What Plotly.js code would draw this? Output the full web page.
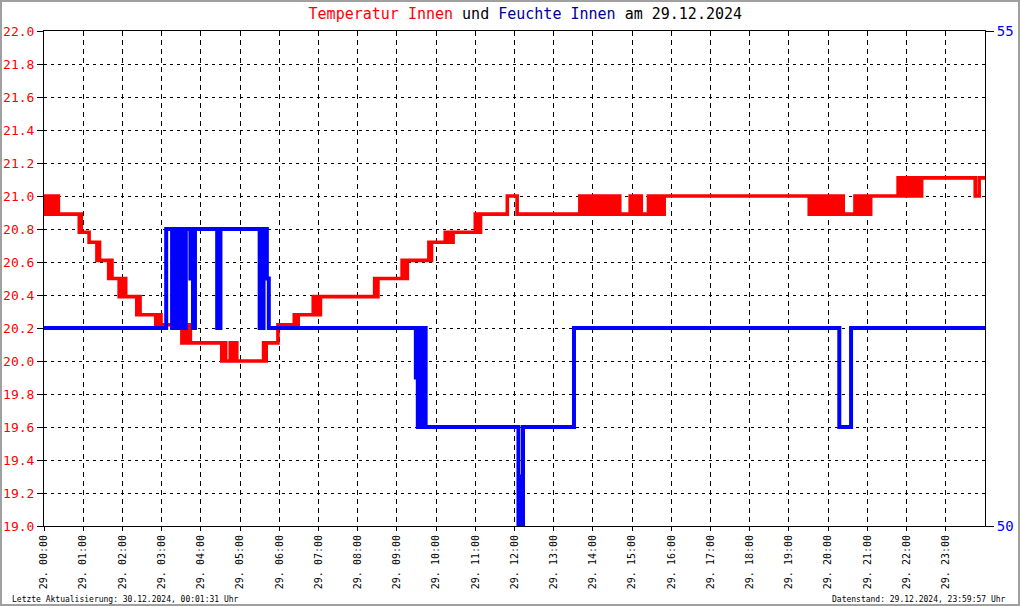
<!DOCTYPE html>
<html>
<head>
<meta charset="utf-8">
<script src="https://cdn.plot.ly/plotly-3.0.1.min.js"></script>
<style>
html,body{margin:0;padding:0;background:#fff;}
#wrap{position:relative;width:1020px;height:606px;}
#chart{width:1020px;height:606px;}
#frame{position:absolute;left:0;top:0;width:1020px;height:606px;box-sizing:border-box;border:2px solid #a0a0a0;pointer-events:none;}
</style>
</head>
<body>
<div id="wrap"><div id="chart"></div><div id="frame"></div></div>
<script>
// Temperature (°C), time in minutes after midnight, 29.12.2024
const tempMin = [0,2,5,7,9,12,14,17,19,22,
  54,55,57,69,81,83,85,99,101,104,115,117,120,122,125,142,145,147,
  171,173,175,178,179,211,213,215,217,219,221,224,
  272,275,278,285,287,290,295,336,338,340,358,
  383,386,389,412,414,417,420,423,506,508,511,
  548,550,552,554,556,589,591,593,614,617,620,623,626,
  660,662,664,666,668,709,724,
  820,822,824,826,829,831,834,836,839,841,845,847,850,852,855,857,859,862,864,866,868,871,873,876,878,881,
  897,899,902,904,907,909,912,914,925,927,930,932,935,937,940,942,946,948,949,
  1171,1173,1175,1178,1180,1183,1185,1188,1190,1193,1195,1198,1200,1202,1204,1207,1209,1212,1214,1217,1219,1221,1223,
  1241,1243,1246,1248,1251,1253,1257,1262,1265,
  1307,1309,1314,1316,1319,1321,1324,1326,1329,1331,1334,1336,1339,1341,1343,
  1425,1431,1439.95];
const tempVal = [21.0,20.89,21.0,20.89,21.0,20.89,21.0,20.89,21.0,20.89,
  20.78,20.89,20.78,20.72,20.61,20.72,20.61,20.5,20.61,20.5,20.39,20.5,20.39,20.5,20.39,20.28,20.39,20.28,
  20.22,20.28,20.22,20.28,20.22,20.11,20.22,20.11,20.22,20.11,20.22,20.11,
  20.0,20.11,20.0,20.11,20.0,20.11,20.0,20.11,20.0,20.11,20.22,
  20.28,20.22,20.28,20.39,20.28,20.39,20.28,20.39,20.5,20.39,20.5,
  20.61,20.5,20.61,20.5,20.61,20.72,20.61,20.72,20.78,20.72,20.78,20.72,20.78,
  20.89,20.78,20.89,20.78,20.89,21.0,20.89,
  21.0,20.89,21.0,20.89,21.0,20.89,21.0,20.89,21.0,20.89,21.0,20.89,21.0,20.89,21.0,20.89,21.0,20.89,21.0,20.89,21.0,20.89,21.0,20.89,21.0,20.89,
  21.0,20.89,21.0,20.89,21.0,20.89,21.0,20.89,21.0,20.89,21.0,20.89,21.0,20.89,21.0,20.89,21.0,20.89,21.0,
  20.89,21.0,20.89,21.0,20.89,21.0,20.89,21.0,20.89,21.0,20.89,21.0,20.89,21.0,20.89,21.0,20.89,21.0,20.89,21.0,20.89,21.0,20.89,
  21.0,20.89,21.0,20.89,21.0,20.89,21.0,20.89,21.0,
  21.11,21.0,21.11,21.0,21.11,21.0,21.11,21.0,21.11,21.0,21.11,21.0,21.11,21.0,21.11,
  21.0,21.11,21.11];

// Humidity (%), time in minutes after midnight
const humMin = [0,187,196,198,200,202,204,206,208,210,212,214,216,217,224,226,228,231,265,270,
  330,336,341,344,569,571,572,574,576,578,580,582,584,726,729,731,733,811,1217,1235,1439.95];
const humVal = [52,53,52,53,52,53,52,53,52,53,52,53,52,53,52.5,53,52,53,52,53,
  52,53,52.5,52,51.5,52,51,52,51,52,51,52,51,50,50.5,50,51,52,51,52,52];

const hourTicks = ['00:00','01:00','02:00','03:00','04:00','05:00','06:00','07:00','08:00','09:00','10:00','11:00',
  '12:00','13:00','14:00','15:00','16:00','17:00','18:00','19:00','20:00','21:00','22:00','23:00'];
const leftTicks = [19.0,19.2,19.4,19.6,19.8,20.0,20.2,20.4,20.6,20.8,21.0,21.2,21.4,21.6,21.8,22.0];
const rightTicks = [50,55];
const titleText = '<span style="color:#ff0000">Temperatur Innen</span> und <span style="color:#000099">Feuchte Innen</span> am 29.12.2024';
const footLeft = 'Letzte Aktualisierung: 30.12.2024, 00:01:31 Uhr';
const footRight = 'Datenstand: 29.12.2024, 23:59:57 Uhr';

function pad(n){return (n<10?'0':'')+n;}
function toDate(m){
  const totalSec = Math.round(m*60);
  const h = Math.floor(totalSec/3600), mi = Math.floor((totalSec%3600)/60), s = totalSec%60;
  return '2024-12-29 ' + pad(h) + ':' + pad(mi) + ':' + pad(s);
}

const mono = 'DejaVu Sans Mono, Liberation Mono, monospace';

const traces = [
  {x: humMin.map(toDate), y: humVal, yaxis: 'y2', type: 'scatter', mode: 'lines',
   line: {shape: 'hv', color: '#0000ff', width: 4}, hoverinfo: 'skip'},
  {x: tempMin.map(toDate), y: tempVal, type: 'scatter', mode: 'lines',
   line: {shape: 'hv', color: '#ff0000', width: 3.6}, hoverinfo: 'skip'}
];

const layout = {
  width: 1020, height: 606,
  margin: {l: 44, r: 35, t: 31, b: 80, pad: 0},
  paper_bgcolor: '#ffffff', plot_bgcolor: '#ffffff',
  showlegend: false,
  font: {family: mono, color: '#000'},
  title: {text: titleText, font: {family: mono, size: 15, color: '#000'},
          x: 0.515, xanchor: 'center', y: 0.977, yanchor: 'middle', xref: 'container', yref: 'container'},
  xaxis: {
    type: 'date',
    range: ['2024-12-29 00:00:00', '2024-12-29 23:59:57'],
    tickmode: 'array', tickvals: hourTicks.map(t => '2024-12-29 ' + t + ':00'),
    ticktext: hourTicks.map(t => '29. ' + t),
    tickangle: -90,
    tickfont: {family: mono, size: 10, color: '#000'},
    ticks: 'outside', ticklen: 4, tickcolor: '#000', tickwidth: 1,
    showgrid: true, gridcolor: '#000', gridwidth: 1, griddash: '5px,4px',
    showline: true, linecolor: '#000', linewidth: 1, mirror: true,
    zeroline: false, fixedrange: true
  },
  yaxis: {
    range: [19, 22], tickvals: leftTicks, tickformat: '.1f',
    tickfont: {family: mono, size: 13, color: '#ff0000'},
    ticks: 'outside', ticklen: 6, tickcolor: '#000',
    showgrid: true, gridcolor: '#000', gridwidth: 1, griddash: '3px,4px',
    showline: true, linecolor: '#000', linewidth: 1, mirror: true,
    zeroline: false, fixedrange: true
  },
  yaxis2: {
    overlaying: 'y', side: 'right', range: [50, 55], tickvals: rightTicks,
    tickfont: {family: mono, size: 14, color: '#0000ff'},
    ticks: 'outside', ticklen: 8, tickcolor: '#000',
    showgrid: false, showline: true, linecolor: '#000', linewidth: 1,
    zeroline: false, fixedrange: true
  },
  annotations: [
    {text: footLeft, xref: 'paper', yref: 'paper', x: -0.0361, y: -0.1475, xanchor: 'left', yanchor: 'middle',
     showarrow: false, font: {family: mono, size: 8, color: '#000'}},
    {text: footRight, xref: 'paper', yref: 'paper', x: 1.0244, y: -0.1475, xanchor: 'right', yanchor: 'middle',
     showarrow: false, font: {family: mono, size: 8, color: '#000'}}
  ]
};

Plotly.newPlot('chart', traces, layout, {staticPlot: true, displayModeBar: false});
</script>
</body>
</html>
